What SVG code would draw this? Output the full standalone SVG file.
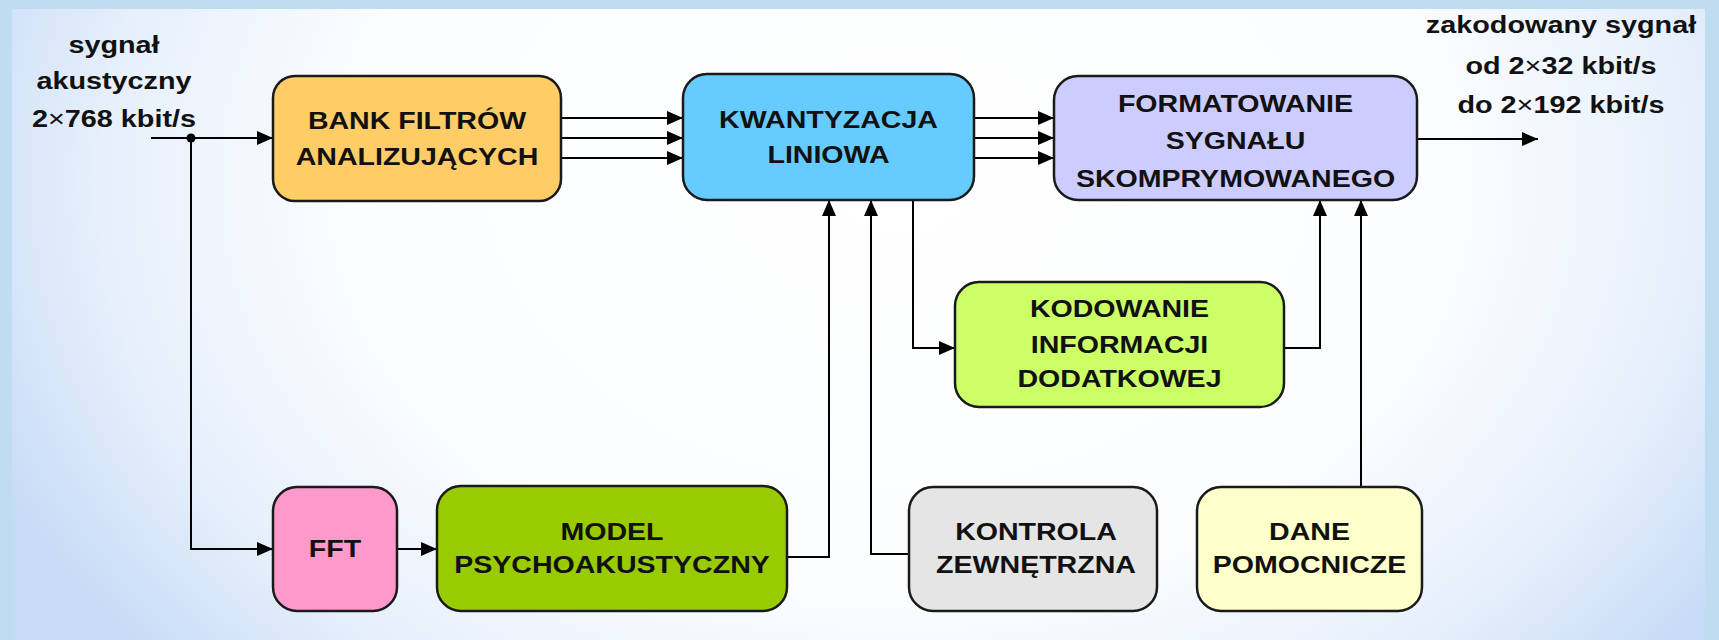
<svg xmlns="http://www.w3.org/2000/svg" width="1719" height="640" viewBox="0 0 1719 640">
<defs>
<radialGradient id="panel" gradientUnits="userSpaceOnUse" cx="900" cy="180" r="1000" gradientTransform="translate(900 180) scale(1 0.75) translate(-900 -180)">
<stop offset="0" stop-color="#ffffff"/>
<stop offset="0.55" stop-color="#fbfdff"/>
<stop offset="0.8" stop-color="#e6effb"/>
<stop offset="1" stop-color="#c4daf6"/>
</radialGradient>
<marker id="arr" viewBox="0 0 16 14" refX="16" refY="7" markerWidth="16" markerHeight="14" markerUnits="userSpaceOnUse" orient="auto">
<path d="M0,0 L16,7 L0,14 z" fill="#000"/>
</marker>
<style>
.box{stroke:#1a1a1a;stroke-width:2.5}
.t{font-family:"Liberation Sans",Arial,sans-serif;font-weight:bold;font-size:24px;fill:#111;text-anchor:middle}
.x{font-weight:normal}
.c{fill:none;stroke:#000;stroke-width:2}
.ca{fill:none;stroke:#000;stroke-width:2;marker-end:url(#arr)}
</style>
</defs>
<rect width="1719" height="640" fill="#c0dcf0"/>
<rect x="12" y="9" width="1693" height="631" fill="url(#panel)"/>

<g id="connectors">
<path class="ca" d="M151,138 H273"/>
<path class="ca" d="M191,138 V549 H273"/>
<circle cx="191" cy="138" r="4.5" fill="#000"/>
<path class="ca" d="M561,118 H683"/>
<path class="ca" d="M561,138 H683"/>
<path class="ca" d="M561,158 H683"/>
<path class="ca" d="M974,118 H1054"/>
<path class="ca" d="M974,138 H1054"/>
<path class="ca" d="M974,158 H1054"/>
<path class="ca" d="M1417,139 H1538"/>
<path class="ca" d="M397,549 H437"/>
<path class="ca" d="M787,557 H829 V200"/>
<path class="ca" d="M909,554 H871 V200"/>
<path class="ca" d="M913,200 V348 H955"/>
<path class="ca" d="M1284,348 H1320 V200"/>
<path class="ca" d="M1361,487 V200"/>
</g>

<g id="label-in">
<text class="t" transform="translate(114,53) scale(1.2,1)">sygnał</text>
<text class="t" transform="translate(114,89) scale(1.2,1)">akustyczny</text>
<text class="t" transform="translate(114,127) scale(1.2,1)">2<tspan class="x">×</tspan>768 kbit/s</text>
</g>

<g id="label-out">
<text class="t" transform="translate(1561,33) scale(1.2,1)">zakodowany sygnał</text>
<text class="t" transform="translate(1561,74) scale(1.2,1)">od 2<tspan class="x">×</tspan>32 kbit/s</text>
<text class="t" transform="translate(1561,113) scale(1.2,1)">do 2<tspan class="x">×</tspan>192 kbit/s</text>
</g>

<g id="bank">
<rect class="box" x="273" y="76" width="288" height="125" rx="22" fill="#ffcc66"/>
<text class="t" transform="translate(417,129) scale(1.19,1)">BANK FILTRÓW</text>
<text class="t" transform="translate(417,165) scale(1.19,1)">ANALIZUJĄCYCH</text>
</g>

<g id="kwantyzacja">
<rect class="box" x="683" y="74" width="291" height="126" rx="24" fill="#66ccff"/>
<text class="t" transform="translate(828.5,128) scale(1.19,1)">KWANTYZACJA</text>
<text class="t" transform="translate(828.5,163) scale(1.19,1)">LINIOWA</text>
</g>

<g id="formatowanie">
<rect class="box" x="1054" y="76" width="363" height="124" rx="24" fill="#ccccff"/>
<text class="t" transform="translate(1235.5,112) scale(1.19,1)">FORMATOWANIE</text>
<text class="t" transform="translate(1235.5,149) scale(1.19,1)">SYGNAŁU</text>
<text class="t" transform="translate(1235.5,187) scale(1.19,1)">SKOMPRYMOWANEGO</text>
</g>

<g id="kodowanie">
<rect class="box" x="955" y="282" width="329" height="125" rx="24" fill="#ccff66"/>
<text class="t" transform="translate(1119.5,317) scale(1.19,1)">KODOWANIE</text>
<text class="t" transform="translate(1119.5,353) scale(1.19,1)">INFORMACJI</text>
<text class="t" transform="translate(1119.5,387) scale(1.19,1)">DODATKOWEJ</text>
</g>

<g id="fft">
<rect class="box" x="273" y="487" width="124" height="124" rx="24" fill="#ff99cc"/>
<text class="t" transform="translate(335,557) scale(1.19,1)">FFT</text>
</g>

<g id="model">
<rect class="box" x="437" y="486" width="350" height="125" rx="24" fill="#99cc00"/>
<text class="t" transform="translate(612,540) scale(1.19,1)">MODEL</text>
<text class="t" transform="translate(612,573) scale(1.19,1)">PSYCHOAKUSTYCZNY</text>
</g>

<g id="kontrola">
<rect class="box" x="909" y="487" width="248" height="124" rx="24" fill="#e5e5e5"/>
<text class="t" transform="translate(1036,540) scale(1.19,1)">KONTROLA</text>
<text class="t" transform="translate(1036,573) scale(1.19,1)">ZEWNĘTRZNA</text>
</g>

<g id="dane">
<rect class="box" x="1197" y="487" width="225" height="124" rx="24" fill="#ffffcc"/>
<text class="t" transform="translate(1309.5,540) scale(1.19,1)">DANE</text>
<text class="t" transform="translate(1309.5,573) scale(1.19,1)">POMOCNICZE</text>
</g>
</svg>
